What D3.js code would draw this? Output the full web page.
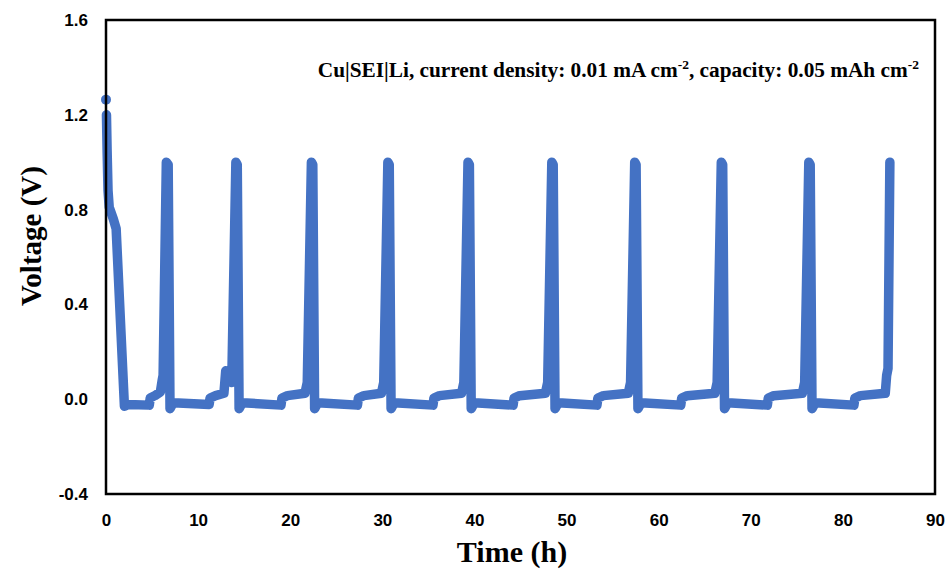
<!DOCTYPE html>
<html lang="en">
<head>
    <meta charset="utf-8">
    <title>voltage profile</title>
    <script type="text/javascript" src="https://cdnjs.cloudflare.com/ajax/libs/d3/7.8.5/d3.min.js"></script>
    <style>
      body { margin: 0; background: #fff; }
    </style>
</head>
<body>
    <script type="text/javascript">
    //readings taken off the curve: time (h) and voltage (V) at each corner
    var timeH = [0, 0.05, 0.12, 0.22, 0.35, 0.8, 1.1, 2.0, 2.4, 4.7, 4.8, 5.3, 5.9, 6.1, 6.2, 6.55, 6.75, 6.95,
                 7.3, 11.2, 11.3, 11.9, 12.8, 13.0, 13.3, 13.65, 14.1, 14.25, 14.45,
                 14.8, 19.0, 19.1, 19.7, 21.6, 21.85, 22.3, 22.45, 22.65,
                 23.0, 27.3, 27.4, 28.0, 29.9, 30.15, 30.6, 30.75, 30.95,
                 31.3, 35.5, 35.6, 36.2, 38.6, 38.85, 39.3, 39.45, 39.65,
                 40.0, 44.2, 44.3, 44.9, 47.7, 47.95, 48.4, 48.55, 48.75,
                 49.1, 53.3, 53.4, 54.0, 56.7, 56.95, 57.4, 57.55, 57.75,
                 58.1, 62.4, 62.5, 63.1, 66.1, 66.35, 66.8, 66.95, 67.15,
                 67.5, 71.8, 71.9, 72.5, 75.6, 75.85, 76.3, 76.45, 76.65,
                 77.0, 81.2, 81.3, 81.9, 84.6, 84.75, 84.9, 85.1];
    var voltageV = [1.264, 1.20, 1.05, 0.88, 0.81, 0.76, 0.72, -0.03, -0.022, -0.025, 0.005, 0.015, 0.03, 0.08, 0.10, 1.0, 0.99, -0.04,
                    -0.015, -0.022, 0.005, 0.015, 0.025, 0.12, 0.09, 0.07, 1.0, 0.99, -0.04,
                    -0.015, -0.025, 0.005, 0.015, 0.025, 0.07, 1.0, 0.99, -0.04,
                    -0.015, -0.025, 0.005, 0.015, 0.025, 0.07, 1.0, 0.99, -0.04,
                    -0.015, -0.025, 0.005, 0.015, 0.025, 0.07, 1.0, 0.99, -0.04,
                    -0.015, -0.025, 0.005, 0.015, 0.025, 0.07, 1.0, 0.99, -0.04,
                    -0.015, -0.025, 0.005, 0.015, 0.025, 0.07, 1.0, 0.99, -0.04,
                    -0.015, -0.025, 0.005, 0.015, 0.025, 0.07, 1.0, 0.99, -0.04,
                    -0.015, -0.025, 0.005, 0.015, 0.025, 0.07, 1.0, 0.99, -0.04,
                    -0.015, -0.025, 0.005, 0.015, 0.025, 0.10, 0.13, 1.0];

    var xTicks = [0, 10, 20, 30, 40, 50, 60, 70, 80, 90];
    var yTicks = [-0.4, 0.0, 0.4, 0.8, 1.2, 1.6];

    var xLabel = "Time (h)",
        yLabel = "Voltage (V)";

    //initialize the dimensions
    var width = 948,
        height = 569,
        margin = {top: 20, right: 13, bottom: 75, left: 106},
        plotW = width - margin.left - margin.right,
        plotH = height - margin.top - margin.bottom,
        blue = "#4472C4";

    var points = timeH.map(function(t, i) { return [t, voltageV[i]]; });

    //scales
    var xScale = d3.scaleLinear().domain([0, 90]).range([0, plotW]);
    var yScale = d3.scaleLinear().domain([-0.4, 1.6]).range([plotH, 0]);

    var svg = d3.select("body")
                .append("svg")
                .attr("width", width)
                .attr("height", height);

    var g = svg.append("g")
               .attr("transform", "translate(" + margin.left + "," + margin.top + ")");

    //axes, labels only (no tick marks in the original); plain hyphen for negatives
    var xAxis = d3.axisBottom(xScale).tickValues(xTicks).tickSize(0).tickPadding(20)
                  .tickFormat(function(d) { return String(d); });
    var yAxis = d3.axisLeft(yScale).tickValues(yTicks).tickSize(0).tickPadding(18)
                  .tickFormat(function(d) { return d.toFixed(1); });

    var gx = g.append("g")
              .attr("transform", "translate(0," + plotH + ")")
              .call(xAxis);
    var gy = g.append("g").call(yAxis);

    [gx, gy].forEach(function(a) {
      a.select(".domain").remove();
      a.selectAll("text")
       .attr("font-family", "Liberation Sans, Arial, sans-serif")
       .attr("font-weight", "bold")
       .attr("font-size", 17)
       .attr("fill", "#000");
    });

    //the curve: thick line through the readings so it looks like dense markers
    var line = d3.line()
                 .x(function(d) { return xScale(d[0]); })
                 .y(function(d) { return yScale(d[1]); });

    g.append("path")
     .datum(points.slice(1))
     .attr("d", line)
     .attr("fill", "none")
     .attr("stroke", blue)
     .attr("stroke-width", 9.5)
     .attr("stroke-linejoin", "round")
     .attr("stroke-linecap", "round");

    //first reading sits on its own as a marker
    g.append("circle")
     .attr("cx", xScale(points[0][0]))
     .attr("cy", yScale(points[0][1]))
     .attr("r", 5)
     .attr("fill", blue);

    //plot frame
    g.append("rect")
     .attr("x", 0)
     .attr("y", 0)
     .attr("width", plotW)
     .attr("height", plotH)
     .attr("fill", "none")
     .attr("stroke", "#000")
     .attr("stroke-width", 2.5);

    //axis titles
    svg.append("text")
       .attr("x", 512)
       .attr("y", 562)
       .attr("text-anchor", "middle")
       .attr("font-family", "Liberation Serif, Times New Roman, serif")
       .attr("font-weight", "bold")
       .attr("font-size", 30)
       .text(xLabel);

    svg.append("text")
       .attr("transform", "translate(41,236) rotate(-90)")
       .attr("text-anchor", "middle")
       .attr("font-family", "Liberation Serif, Times New Roman, serif")
       .attr("font-weight", "bold")
       .attr("font-size", 29)
       .text(yLabel);

    //annotation in the upper right
    var note = svg.append("text")
                  .attr("x", 919)
                  .attr("y", 77)
                  .attr("text-anchor", "end")
                  .attr("font-family", "Liberation Serif, Times New Roman, serif")
                  .attr("font-weight", "bold")
                  .attr("font-size", 21.3);

    note.append("tspan").text("Cu|SEI|Li, current density: 0.01 mA cm");
    note.append("tspan").attr("dy", -8).attr("font-size", 13.5).text("-2");
    note.append("tspan").attr("dy", 8).text(", capacity: 0.05 mAh cm");
    note.append("tspan").attr("dy", -8).attr("font-size", 13.5).text("-2");

    </script>
</body>
</html>
